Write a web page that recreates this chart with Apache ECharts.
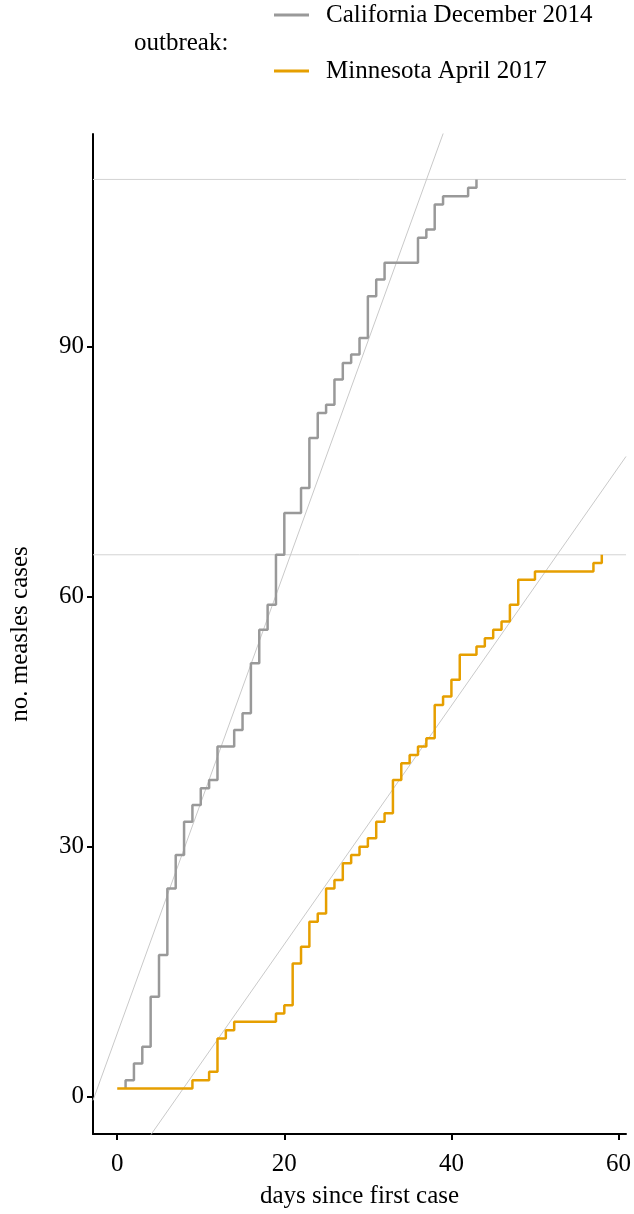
<!DOCTYPE html>
<html>
<head>
<meta charset="utf-8">
<script src="https://cdn.jsdelivr.net/npm/echarts@6/dist/echarts.min.js"></script>
<style>
html,body{margin:0;padding:0;background:#fff;}
#chart{width:634px;height:1214px;}
</style>
</head>
<body>
<div id="chart"></div>
<script>
// ---- data ----
const caDays  = [1, 1, 2, 3, 4, 5, 6, 7, 8, 9, 10, 11, 12, 14, 15, 16, 17, 18, 19, 20, 22, 23, 24, 25, 26, 27, 28, 29, 30, 31, 32, 36, 37, 38, 39, 42, 43];
const caCases = [1, 2, 4, 6, 12, 17, 25, 29, 33, 35, 37, 38, 42, 44, 46, 52, 56, 59, 65, 70, 73, 79, 82, 83, 86, 88, 89, 91, 96, 98, 100, 103, 104, 107, 108, 109, 110];
const mnDays  = [0, 9, 11, 12, 13, 14, 19, 20, 21, 22, 23, 24, 25, 26, 27, 28, 29, 30, 31, 32, 33, 34, 35, 36, 37, 38, 39, 40, 41, 43, 44, 45, 46, 47, 48, 50, 57, 58];
const mnCases = [1, 2, 3, 7, 8, 9, 10, 11, 16, 18, 21, 22, 25, 26, 28, 29, 30, 31, 33, 34, 38, 40, 41, 42, 43, 47, 48, 50, 53, 54, 55, 56, 57, 59, 62, 63, 64, 65];
const seriesNames = ['California December 2014', 'Minnesota April 2017'];
// fitted straight lines: [intercept, slope]
const caFit = [7.6, 2.766];
const mnFit = [-10.3, 1.43];
// total cases reference lines
const totals = [110, 65];
const xTicks = [0, 20, 40, 60];
const yTicks = [0, 30, 60, 90];
const xRange = [-2.9, 60.9];
const yRange = [-4.45, 115.45];

const FONT = '"Liberation Serif", "DejaVu Serif", serif';
const FS = 25;
const GREY = '#999999';
const ORANGE = '#E69F00';
const FITC = '#c9c9c9';

const zip = (a, b) => a.map((v, i) => [v, b[i]]);
const fitLine = (f) => [[xRange[0], f[0] + f[1] * xRange[0]], [xRange[1], f[0] + f[1] * xRange[1]]];
const hLine = (v) => [[xRange[0], v], [xRange[1], v]];

const chart = echarts.init(document.getElementById('chart'), null, {renderer: 'canvas'});
const thin = (name, data, color) => ({
  type: 'line', name: name, data: data, showSymbol: false, silent: true, clip: true,
  lineStyle: {color: color, width: 1}, z: 1
});
chart.setOption({
  animation: false,
  backgroundColor: '#fff',
  grid: {left: 93, right: 5, top: 134, bottom: 79, containLabel: false},
  legend: {
    data: seriesNames,
    orient: 'vertical',
    left: 274, top: 1, padding: 0,
    icon: 'rect', itemWidth: 35, itemHeight: 3,
    itemGap: 28,
    textStyle: {fontFamily: FONT, fontSize: FS, color: '#000', lineHeight: 28, padding: [0, 0, 0, 12]},
    selectedMode: false
  },
  graphic: [{
    type: 'text', left: 134, top: 31,
    style: {text: 'outbreak:', font: FS + 'px ' + FONT, fill: '#000'}
  }],
  xAxis: {
    type: 'value', min: xRange[0], max: xRange[1],
    name: 'days since first case', nameLocation: 'middle', nameGap: 50,
    nameTextStyle: {fontFamily: FONT, fontSize: FS, color: '#000'},
    axisLine: {show: true, onZero: false, lineStyle: {color: '#000', width: 2}},
    axisTick: {show: true, length: 6, lineStyle: {color: '#000', width: 2}, customValues: xTicks},
    axisLabel: {fontFamily: FONT, fontSize: FS, color: '#000', margin: 18, customValues: xTicks},
    splitLine: {show: false}
  },
  yAxis: {
    type: 'value', min: yRange[0], max: yRange[1],
    name: 'no. measles cases', nameLocation: 'middle', nameGap: 60, nameRotate: 90,
    nameTextStyle: {fontFamily: FONT, fontSize: FS, color: '#000'},
    axisLine: {show: true, onZero: false, lineStyle: {color: '#000', width: 2}},
    axisTick: {show: true, length: 6, lineStyle: {color: '#000', width: 2}, customValues: yTicks},
    axisLabel: {fontFamily: FONT, fontSize: FS, color: '#000', margin: 9, customValues: yTicks},
    splitLine: {show: false}
  },
  series: [
    thin('total1', hLine(totals[0]), '#d4d4d4'),
    thin('total2', hLine(totals[1]), '#d4d4d4'),
    thin('fitCA', fitLine(caFit), FITC),
    thin('fitMN', fitLine(mnFit), FITC),
    {
      type: 'line', name: seriesNames[0], data: zip(caDays, caCases), step: 'end',
      showSymbol: false, lineStyle: {color: GREY, width: 2.5}, itemStyle: {color: GREY}, z: 3
    },
    {
      type: 'line', name: seriesNames[1], data: zip(mnDays, mnCases), step: 'end',
      showSymbol: false, lineStyle: {color: ORANGE, width: 2.5}, itemStyle: {color: ORANGE}, z: 3
    }
  ]
});
</script>
</body>
</html>
